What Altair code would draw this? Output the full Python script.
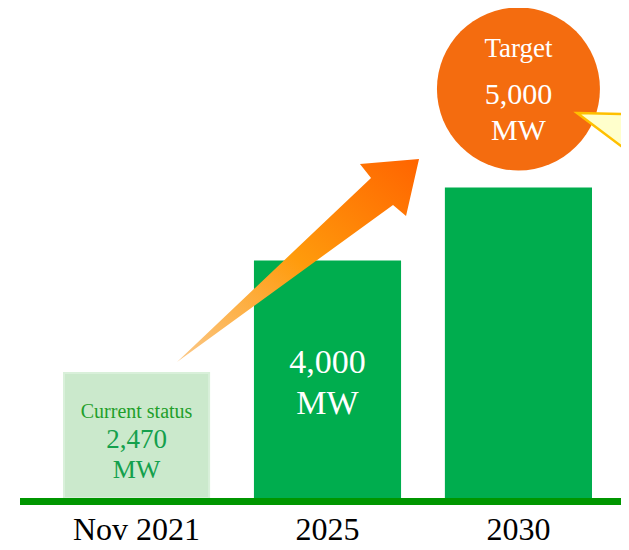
import altair as alt
import pandas as pd

SERIF = "Liberation Serif"

# ---- data ----
categories = ["Nov 2021", "2025", "2030"]
capacity_mw = [2470, 4000, 5000]
bar_fill = ["#cbe9cc", "#00ad4e", "#00ad4e"]
bar_stroke = ["#d9f0da", "#00ad4e", "#00ad4e"]

status_label = "Current status"
value_labels = ["2,470", "4,000", "5,000"]
unit_label = "MW"
target_label = "Target"

# ---- layout ----
W, H = 613, 490
Y_MIN, Y_MAX = 755, 7477

x_scale = alt.Scale(domain=categories, range=[56, 583], paddingInner=0.24, paddingOuter=0)
y_scale = alt.Scale(domain=[Y_MIN, Y_MAX], nice=False, zero=False)
x_axis = alt.Axis(title=None, labelFont=SERIF, labelFontSize=32, labelColor="#000000",
                  labelAngle=0, domain=False, ticks=False, grid=False,
                  labelPadding=41, labelBaseline="alphabetic")
X = alt.X("cat:N", scale=x_scale, sort=categories, axis=x_axis)

bars_df = pd.DataFrame({"cat": categories, "mw": capacity_mw,
                        "fill": bar_fill, "stroke": bar_stroke})

bars = alt.Chart(bars_df).mark_bar(strokeWidth=2, opacity=1).encode(
    x=X,
    y=alt.Y("mw:Q", scale=y_scale, axis=None),
    y2=alt.datum(Y_MIN),
    fill=alt.Fill("fill:N", scale=None),
    stroke=alt.Stroke("stroke:N", scale=None),
)

baseline = alt.Chart(pd.DataFrame({"y": [Y_MIN]})).mark_rule(
    color="#009600", strokeWidth=7, yOffset=3.5
).encode(
    y=alt.Y("y:Q", scale=y_scale, axis=None),
    x=alt.value(12),
    x2=alt.value(W),
)

ARROW = ("M-1,0.835L0.597,-0.679L0.506,-0.794L0.992,-0.835"
         "L0.885,-0.366L0.778,-0.457Z")
arrow_grad = alt.Gradient(
    gradient="linear",
    stops=[alt.GradientStop(offset=0, color="#fbc98a"),
           alt.GradientStop(offset=0.5, color="#ff9b0c"),
           alt.GradientStop(offset=1, color="#ff6400")],
    x1=0, y1=1, x2=1, y2=0,
)
arrow = alt.Chart(pd.DataFrame({"cat": [categories[1]], "val": [capacity_mw[1]]})).mark_point(
    shape=ARROW, size=243 ** 2, filled=True, fill=arrow_grad, strokeWidth=0,
    opacity=1, xOffset=-29, yOffset=-1
).encode(x=X, y=alt.Y("val:Q", scale=y_scale, axis=None))

target_df = pd.DataFrame({"cat": [categories[2]], "val": [capacity_mw[2]]})
circle = alt.Chart(target_df).mark_point(
    shape="circle", size=163 ** 2, filled=True, color="#f46c0f", opacity=1, yOffset=-99.6
).encode(x=X, y=alt.Y("val:Q", scale=y_scale, axis=None))

CALLOUT = "M-1,-0.75L1,-0.71L1,0.75Z"
callout = alt.Chart(target_df).mark_point(
    shape=CALLOUT, size=100 ** 2, filled=True, fill="#ffffcc", stroke="#ffc000",
    strokeWidth=2.5, opacity=1, xOffset=108.7, yOffset=-38
).encode(x=X, y=alt.Y("val:Q", scale=y_scale, axis=None))


def label(i, text, size, color, dy):
    df = pd.DataFrame({"cat": [categories[i]], "val": [capacity_mw[i]], "t": [text]})
    return alt.Chart(df).mark_text(
        font=SERIF, fontSize=size, color=color, baseline="alphabetic",
        align="center", dy=dy
    ).encode(x=X, y=alt.Y("val:Q", scale=y_scale, axis=None), text="t:N")


labels = [
    label(0, status_label, 20, "#1f9f2a", 45),
    label(0, value_labels[0], 27, "#14a04c", 75),
    label(0, unit_label, 26, "#14a04c", 105),
    label(1, value_labels[1], 34, "#ffffff", 111.5),
    label(1, unit_label, 34, "#ffffff", 152.5),
    label(2, target_label, 27, "#ffffff", -131.5),
    label(2, value_labels[2], 30, "#ffffff", -85),
    label(2, unit_label, 30, "#ffffff", -48.5),
]

chart = alt.layer(bars, baseline, arrow, circle, callout, *labels).properties(
    width=W, height=H,
    padding={"left": 0, "top": 0, "right": 0, "bottom": 48},
    autosize=alt.AutoSizeParams(type="none"),
    background="#ffffff",
).configure_view(strokeWidth=0)

chart.save("out.html", embed_options={"renderer": "svg", "actions": False})
